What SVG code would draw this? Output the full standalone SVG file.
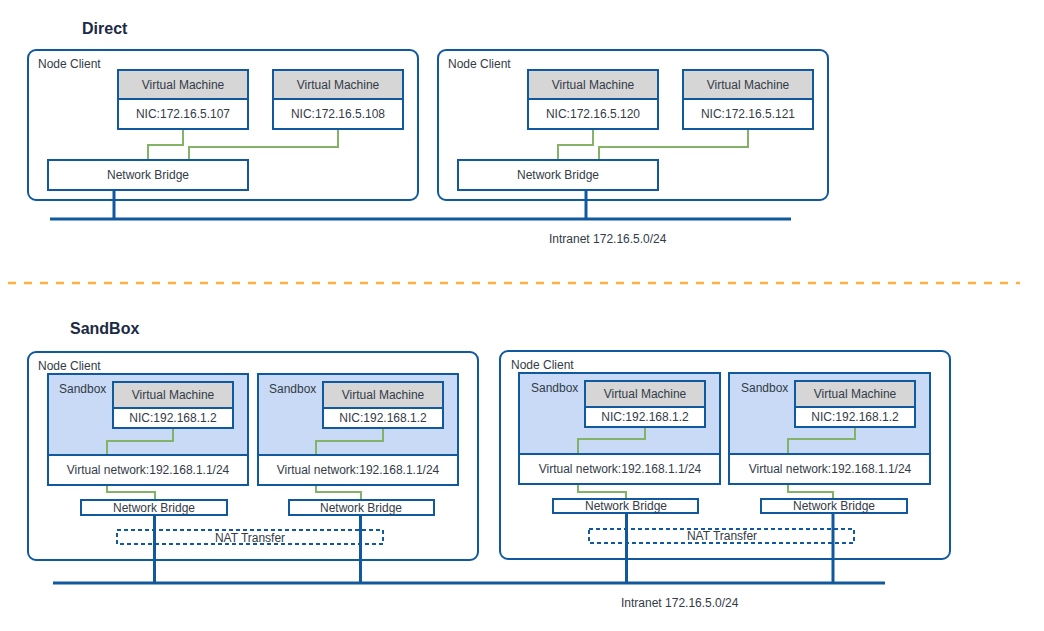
<svg xmlns="http://www.w3.org/2000/svg" width="1044" height="631" viewBox="0 0 1044 631">
<style>
text{font-family:"Liberation Sans",Arial,sans-serif;font-size:12px;fill:#333b47}
.h{font-size:16px;font-weight:bold;fill:#1b2a45}
.c{text-anchor:middle}
.outer{fill:#fff;stroke:#10599f;stroke-width:2}
.box{fill:#fff;stroke:#10599f;stroke-width:2}
.hdr{fill:#d6d6d6}
.sb{fill:#c8daf5}
.ln{fill:none;stroke:#10599f;stroke-width:2}
.g{fill:none;stroke:#82b366;stroke-width:2}
.net{fill:none;stroke:#10599f;stroke-width:3}
.nat{fill:none;stroke:#10599f;stroke-width:2;stroke-dasharray:4 3}
</style>
<rect width="1044" height="631" fill="#fff"/>
<text class="h" x="82" y="34">Direct</text>
<text class="h" x="70" y="334">SandBox</text>
<line x1="8" y1="283" x2="1020" y2="283" stroke="#ffb03f" stroke-width="2.5" stroke-dasharray="8 8"/>

<g id="direct-node-1">
<rect class="outer" x="28" y="50" width="390" height="150" rx="8"/>
<text x="38" y="68">Node Client</text>
<g id="vm-107">
<rect class="hdr" x="118" y="70" width="130" height="29"/>
<rect class="box" x="118" y="70" width="130" height="59" fill="none" style="fill:none"/>
<line class="ln" x1="118" y1="99" x2="248" y2="99"/>
<text class="c" x="183" y="89">Virtual Machine</text>
<text class="c" x="183" y="118">NIC:172.16.5.107</text>
</g>
<g id="vm-108">
<rect class="hdr" x="273" y="70" width="130" height="29"/>
<rect class="box" x="273" y="70" width="130" height="59" style="fill:none"/>
<line class="ln" x1="273" y1="99" x2="403" y2="99"/>
<text class="c" x="338" y="89">Virtual Machine</text>
<text class="c" x="338" y="118">NIC:172.16.5.108</text>
</g>
<g id="bridge-d1">
<rect class="box" x="48" y="160" width="200" height="30"/>
<text class="c" x="148" y="179">Network Bridge</text>
</g>
</g>

<g id="direct-node-2">
<rect class="outer" x="438" y="50" width="390" height="150" rx="8"/>
<text x="448" y="68">Node Client</text>
<g id="vm-120">
<rect class="hdr" x="528" y="70" width="130" height="29"/>
<rect class="box" x="528" y="70" width="130" height="59" style="fill:none"/>
<line class="ln" x1="528" y1="99" x2="658" y2="99"/>
<text class="c" x="593" y="89">Virtual Machine</text>
<text class="c" x="593" y="118">NIC:172.16.5.120</text>
</g>
<g id="vm-121">
<rect class="hdr" x="683" y="70" width="130" height="29"/>
<rect class="box" x="683" y="70" width="130" height="59" style="fill:none"/>
<line class="ln" x1="683" y1="99" x2="813" y2="99"/>
<text class="c" x="748" y="89">Virtual Machine</text>
<text class="c" x="748" y="118">NIC:172.16.5.121</text>
</g>
<g id="bridge-d2">
<rect class="box" x="458" y="160" width="200" height="30"/>
<text class="c" x="558" y="179">Network Bridge</text>
</g>
</g>

<g id="intranet-top">
<text x="549" y="243">Intranet 172.16.5.0/24</text>
</g>

<g id="sandbox-node-1">
<rect class="outer" x="28" y="352" width="450" height="208" rx="8"/>
<text x="38" y="370">Node Client</text>
<g id="sb-1a">
<rect class="sb" x="48" y="374" width="200" height="81"/>
<rect class="box" x="48" y="374" width="200" height="111" style="fill:none"/>
<line class="ln" x1="48" y1="455" x2="248" y2="455"/>
<text x="59" y="393">Sandbox</text>
<rect class="hdr" x="113" y="382" width="120" height="26"/>
<rect fill="#fff" x="113" y="408" width="120" height="20"/>
<rect class="box" x="113" y="382" width="120" height="46" style="fill:none"/>
<line class="ln" x1="113" y1="408" x2="233" y2="408"/>
<text class="c" x="173" y="399">Virtual Machine</text>
<text class="c" x="173" y="422">NIC:192.168.1.2</text>
<text class="c" x="148" y="474">Virtual network:192.168.1.1/24</text>
</g>
<g id="sb-1b">
<rect class="sb" x="258" y="374" width="200" height="81"/>
<rect class="box" x="258" y="374" width="200" height="111" style="fill:none"/>
<line class="ln" x1="258" y1="455" x2="458" y2="455"/>
<text x="269" y="393">Sandbox</text>
<rect class="hdr" x="323" y="382" width="120" height="26"/>
<rect fill="#fff" x="323" y="408" width="120" height="20"/>
<rect class="box" x="323" y="382" width="120" height="46" style="fill:none"/>
<line class="ln" x1="323" y1="408" x2="443" y2="408"/>
<text class="c" x="383" y="399">Virtual Machine</text>
<text class="c" x="383" y="422">NIC:192.168.1.2</text>
<text class="c" x="358" y="474">Virtual network:192.168.1.1/24</text>
</g>
<g id="bridge-s1a">
<rect class="box" x="81" y="500" width="146" height="15"/>
<text class="c" x="154" y="512">Network Bridge</text>
</g>
<g id="bridge-s1b">
<rect class="box" x="289" y="500" width="145" height="15"/>
<text class="c" x="361" y="512">Network Bridge</text>
</g>
<g id="nat-1">
<rect class="nat" x="117" y="530" width="266" height="14"/>
<text class="c" x="250" y="542">NAT Transfer</text>
</g>
</g>

<g id="sandbox-node-2">
<rect class="outer" x="500" y="351" width="450" height="208" rx="8"/>
<text x="511" y="369">Node Client</text>
<g id="sb-2a">
<rect class="sb" x="519" y="373" width="201" height="81"/>
<rect class="box" x="519" y="373" width="201" height="111" style="fill:none"/>
<line class="ln" x1="519" y1="454" x2="720" y2="454"/>
<text x="531" y="392">Sandbox</text>
<rect class="hdr" x="585" y="381" width="120" height="26"/>
<rect fill="#fff" x="585" y="407" width="120" height="20"/>
<rect class="box" x="585" y="381" width="120" height="46" style="fill:none"/>
<line class="ln" x1="585" y1="407" x2="705" y2="407"/>
<text class="c" x="645" y="398">Virtual Machine</text>
<text class="c" x="645" y="421">NIC:192.168.1.2</text>
<text class="c" x="620" y="473">Virtual network:192.168.1.1/24</text>
</g>
<g id="sb-2b">
<rect class="sb" x="729" y="373" width="201" height="81"/>
<rect class="box" x="729" y="373" width="201" height="111" style="fill:none"/>
<line class="ln" x1="729" y1="454" x2="930" y2="454"/>
<text x="741" y="392">Sandbox</text>
<rect class="hdr" x="795" y="381" width="120" height="26"/>
<rect fill="#fff" x="795" y="407" width="120" height="20"/>
<rect class="box" x="795" y="381" width="120" height="46" style="fill:none"/>
<line class="ln" x1="795" y1="407" x2="915" y2="407"/>
<text class="c" x="855" y="398">Virtual Machine</text>
<text class="c" x="855" y="421">NIC:192.168.1.2</text>
<text class="c" x="830" y="473">Virtual network:192.168.1.1/24</text>
</g>
<g id="bridge-s2a">
<rect class="box" x="553" y="499" width="145" height="14"/>
<text class="c" x="626" y="510">Network Bridge</text>
</g>
<g id="bridge-s2b">
<rect class="box" x="761" y="499" width="146" height="14"/>
<text class="c" x="834" y="510">Network Bridge</text>
</g>
<g id="nat-2">
<rect class="nat" x="589" y="529" width="265" height="14"/>
<text class="c" x="722" y="540">NAT Transfer</text>
</g>
</g>

<g id="intranet-bottom">
<text x="621" y="607">Intranet 172.16.5.0/24</text>
</g>

<g id="connectors">
<polyline class="g" points="183,130 183,145 148,145 148,159"/>
<polyline class="g" points="338,130 338,147 189,147 189,159"/>
<polyline class="g" points="593,130 593,145 558,145 558,159"/>
<polyline class="g" points="748,130 748,147 599,147 599,159"/>
<line class="net" x1="114" y1="191" x2="114" y2="219"/>
<line class="net" x1="586" y1="191" x2="586" y2="219"/>
<line class="net" x1="50" y1="219" x2="791" y2="219"/>

<polyline class="g" points="173,429 173,441 107,441 107,454"/>
<polyline class="g" points="107,486 107,492 155,492 155,499"/>
<polyline class="g" points="383,429 383,441 316,441 316,454"/>
<polyline class="g" points="316,486 316,492 361,492 361,499"/>
<polyline class="g" points="645,428 645,439 578,439 578,453"/>
<polyline class="g" points="578,485 578,492 626,492 626,498"/>
<polyline class="g" points="855,428 855,439 788,439 788,453"/>
<polyline class="g" points="788,485 788,492 833,492 833,498"/>
<line class="net" x1="154.5" y1="516" x2="154.5" y2="583"/>
<line class="net" x1="360.5" y1="516" x2="360.5" y2="583"/>
<line class="net" x1="626.5" y1="514" x2="626.5" y2="583"/>
<line class="net" x1="833" y1="514" x2="833" y2="583"/>
<line class="net" x1="53" y1="583" x2="885" y2="583"/>
</g>
</svg>
